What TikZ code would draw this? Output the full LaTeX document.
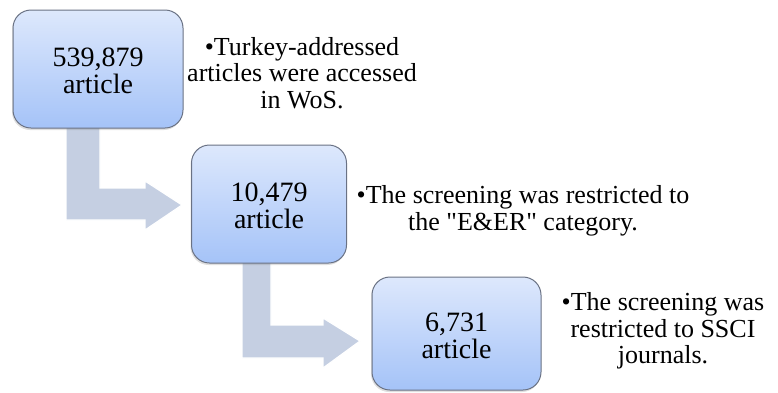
\documentclass[tikz,border=0pt]{standalone}
\usepackage{fontspec}
\setmainfont{Liberation Serif}
\usetikzlibrary{shadows}
\definecolor{boxtop}{HTML}{DDE8FC}
\definecolor{boxbot}{HTML}{A5C3F8}
\definecolor{boxline}{HTML}{6A7284}
\definecolor{arrowfill}{HTML}{C5CFE2}
\tikzset{
  countbox/.style={draw=boxline, line width=1pt, rounded corners=18pt,
    top color=boxtop, bottom color=boxbot, align=center, inner sep=0pt,
    font=\fontsize{28}{27}\selectfont,
    drop shadow={opacity=0.25, shadow xshift=-1pt, shadow yshift=-2pt}},
  sidetext/.style={align=center, inner sep=0pt, font=\fontsize{26}{26.5}\selectfont},
  blockarrow/.style={fill=arrowfill, draw=white, line width=1.2pt, line join=miter}
}
\begin{document}
\begin{tikzpicture}[x=1pt, y=-1pt]
\useasboundingbox (0,0) rectangle (778,392);
% block arrows (drawn first, behind the boxes)
\coordinate (a1s) at (66,120);
\draw[blockarrow] (a1s) -- (100,120) -- (100,188) -- (145,188) -- (145,181)
  -- (182,205) -- (145,230) -- (145,220) -- (66,220) -- cycle;
\coordinate (a2s) at (242,255);
\draw[blockarrow] (a2s) -- (271,255) -- (271,325) -- (323,325) -- (323,318)
  -- (360,341) -- (323,368) -- (323,358) -- (242,358) -- cycle;
% boxes
\node[countbox, minimum width=170pt, minimum height=118pt] (b1) at (98,69) {\rule{0pt}{23pt}539,879\\article};
\node[countbox, minimum width=155pt, minimum height=118pt] (b2) at (269,204) {\rule{0pt}{23pt}10,479\\article};
\node[countbox, minimum width=169pt, minimum height=113pt] (b3) at (456.5,333.5) {\rule{0pt}{23pt}6,731\\article};
% side texts
\node[sidetext] (t1) at (302,73) {\textbullet Turkey-addressed\\articles were accessed\\in WoS.};
\node[sidetext] (t2) at (523,211) {\textbullet The screening was restricted to\\the \textquotedbl E\&ER\textquotedbl{} category.};
\node[sidetext] (t3) at (663,331) {\textbullet The screening was\\restricted to SSCI\\journals.};
\end{tikzpicture}
\end{document}
